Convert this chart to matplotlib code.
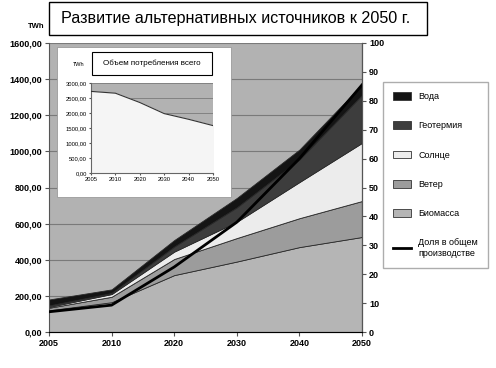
import matplotlib
matplotlib.use("Agg")
import matplotlib.pyplot as plt
from matplotlib.patches import Rectangle
from matplotlib.lines import Line2D
from matplotlib.ticker import FuncFormatter

plt.rcParams['font.family'] = ['Liberation Sans', 'DejaVu Sans']

years = ['2005', '2010', '2020', '2030', '2040', '2050']
biomass = [120, 165, 315, 390, 470, 526]
wind = [14, 30, 89, 130, 160, 199]
solar = [5, 15, 41, 90, 200, 322]
geothermal = [8, 6, 28, 80, 125, 265]
water = [33, 20, 36, 52, 55, 58]
share = [7.0, 9.3, 22.5, 38.0, 60.0, 85.5]

total_use = [2720, 2660, 2350, 1980, 1790, 1580]

names = ['Вода', 'Геотермия', 'Солнце', 'Ветер', 'Биомасса']
colors = ['#141414', '#3d3d3d', '#ececec', '#9c9c9c', '#b5b5b5']
bg = '#b2b2b2'

W, H = 496, 368
fig = plt.figure(figsize=(W / 100, H / 100), dpi=100)


def box(x0, y0, x1, y1):
    return [x0 / W, 1 - y1 / H, (x1 - x0) / W, (y1 - y0) / H]


x = list(range(len(years)))
comma = FuncFormatter(lambda v, p: f"{v:.2f}".replace('.', ','))

# main chart
ax = fig.add_axes(box(49, 43, 362, 332))
ax.set_facecolor(bg)
ax.stackplot(x, biomass, wind, solar, geothermal, water,
             colors=colors[::-1], edgecolor='#2a2a2a', linewidth=0.6)
ax.set_xlim(0, 5)
ax.set_ylim(0, 1600)
ax.set_yticks(range(0, 1601, 200))
ax.yaxis.set_major_formatter(comma)
ax.set_xticks(x)
ax.set_xticklabels(years)
ax.grid(axis='y', color='#7a7a7a', linewidth=0.8)
ax.set_axisbelow(True)
ax.spines['top'].set_visible(False)
ax.spines['left'].set_color('#555555')
ax.spines['bottom'].set_color('#555555')
ax.tick_params(labelsize=6.5, length=3, color='#555555', pad=2)
for t in ax.get_xticklabels() + ax.get_yticklabels():
    t.set_fontweight('bold')

ax2 = ax.twinx()
ax2.plot(x, share, color='black', linewidth=2)
ax2.set_ylim(0, 100)
ax2.set_yticks(range(0, 101, 10))
ax2.tick_params(labelsize=6.5, length=3, color='#555555', pad=2)
for t in ax2.get_yticklabels():
    t.set_fontweight('bold')
for s in ['top', 'left']:
    ax2.spines[s].set_visible(False)
ax2.spines['right'].set_color('#555555')

fig.text(36 / W, 1 - 26 / H, 'TWh', fontsize=5.5, fontweight='bold',
         ha='center', va='center')

# title box
fig.patches.append(Rectangle((49 / W, 1 - 35 / H), 378 / W, 33 / H,
                             transform=fig.transFigure, facecolor='white',
                             edgecolor='black', linewidth=1))
fig.text(236 / W, 1 - 18 / H, 'Развитие альтернативных источников к 2050 г.',
         fontsize=11.6, ha='center', va='center')

# inset
fig.patches.append(Rectangle((57 / W, 1 - 197 / H), 174 / W, 150 / H,
                             transform=fig.transFigure, facecolor='white',
                             edgecolor='#9a9a9a', linewidth=0.6, zorder=3))
axi = fig.add_axes(box(91, 83, 213, 173))
axi.set_zorder(4)
axi.set_facecolor(bg)
axi.fill_between(x, total_use, color='#f5f5f5', zorder=2)
axi.plot(x, total_use, color='#333333', linewidth=0.8, zorder=3)
axi.set_xlim(0, 5)
axi.set_ylim(0, 3000)
axi.set_yticks(range(0, 3001, 500))
axi.yaxis.set_major_formatter(comma)
axi.set_xticks(x)
axi.set_xticklabels(years)
axi.grid(axis='y', color='#7a7a7a', linewidth=0.6)
axi.set_axisbelow(True)
axi.tick_params(labelsize=4.2, length=1.5, pad=1.5, color='#555555')
for s in ['top', 'right']:
    axi.spines[s].set_visible(False)
axi.spines['left'].set_color('#666666')
axi.spines['bottom'].set_color('#666666')
fig.patches.append(Rectangle((92 / W, 1 - 75 / H), 120 / W, 23 / H,
                             transform=fig.transFigure, facecolor='white',
                             edgecolor='black', linewidth=0.8, zorder=5))
fig.text(152 / W, 1 - 63.5 / H, 'Объем потребления всего', fontsize=5.8,
         ha='center', va='center', zorder=6)
fig.text(79 / W, 1 - 64 / H, 'TWh', fontsize=4, ha='center', va='center',
         zorder=6)

# legend
handles = [Rectangle((0, 0), 1, 1, facecolor=c, edgecolor='#333333', linewidth=0.6)
           for c in colors]
handles.append(Line2D([], [], color='black', linewidth=2))
labels = names + ['Доля в общем\nпроизводстве']
fig.legend(handles, labels, loc='upper left', bbox_to_anchor=(383 / W, 1 - 82 / H),
           fontsize=6.5, frameon=True, fancybox=False, edgecolor='#999999',
           handlelength=2.0, handleheight=0.9, labelspacing=2.25,
           borderpad=1.1, handletextpad=0.8, borderaxespad=0)

fig.savefig('out.png', dpi=100)
